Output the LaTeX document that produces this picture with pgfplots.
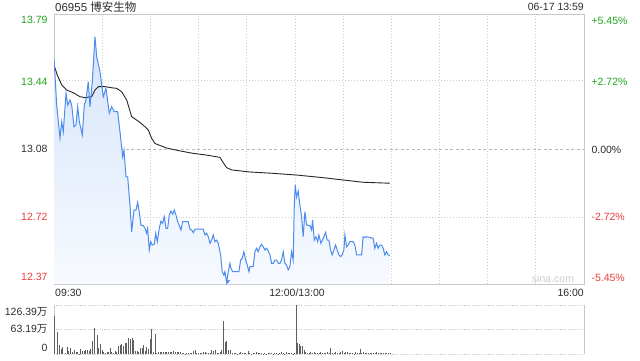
\documentclass[border=0pt]{standalone}
\usepackage{fontspec}
\setmainfont{Liberation Sans}
\newfontfamily\cjk{Noto Sans CJK SC}
\usepackage{pgfplots}
\pgfplotsset{compat=1.18}
\usepackage{pgfplotstable}
\definecolor{upg}{RGB}{30,165,30}
\definecolor{dnr}{RGB}{235,60,60}
\definecolor{lineb}{RGB}{75,140,238}
\definecolor{fillb}{RGB}{214,228,250}
\definecolor{fillw}{RGB}{247,250,255}
\definecolor{framec}{RGB}{200,200,200}
\definecolor{gridc}{RGB}{205,205,205}
\definecolor{volc}{RGB}{95,95,95}
\definecolor{txt}{RGB}{45,45,45}

\pgfplotstableread{
m p
0 13.557
1.68 13.311
3.73 13.138
4.79 13.224
5.79 13.171
7.47 13.373
8.53 13.311
9.96 13.338
11.02 13.311
12.45 13.197
13.69 13.206
14.75 13.302
15.75 13.224
17.61 13.154
18.86 13.311
19.92 13.338
21.35 13.434
22.41 13.302
23.84 13.434
25.52 13.671
26.58 13.565
28.63 13.487
30.68 13.355
32.36 13.399
34.42 13.268
35.91 13.302
37.53 13.276
39.65 13.276
41.08 13.171
42.76 13.040
43.57 13.075
44.81 12.934
45.87 12.934
47.30 12.786
48.36 12.645
49.79 12.759
51.04 12.759
52.09 12.800
52.90 12.759
54.15 12.680
55.58 12.677
56.64 12.663
57.70 12.637
58.32 12.663
59.31 12.549
60.19 12.593
61.18 12.575
62.43 12.579
63.30 12.637
64.29 12.593
65.54 12.663
66.60 12.701
67.65 12.689
68.65 12.724
69.71 12.663
70.77 12.663
71.76 12.733
72.82 12.754
73.88 12.737
74.87 12.759
75.93 12.733
76.99 12.698
77.99 12.677
79.04 12.654
80.10 12.698
83.59 12.698
84.65 12.658
85.71 12.654
86.70 12.640
87.76 12.658
92.92 12.658
93.98 12.628
95.04 12.637
96.04 12.619
97.09 12.584
98.15 12.601
99.15 12.628
100.21 12.593
101.27 12.601
102.26 12.584
103.75 12.523
104.75 12.435
105.81 12.417
106.43 12.435
107.49 12.379
108.49 12.435
109.54 12.479
110.17 12.453
111.22 12.435
115.14 12.435
116.20 12.496
117.20 12.505
118.26 12.540
119.31 12.496
120.31 12.470
121.37 12.435
121.99 12.461
124.04 12.461
125.10 12.540
126.16 12.558
127.15 12.540
128.21 12.566
129.27 12.579
130.26 12.566
131.32 12.549
132.38 12.558
133.37 12.544
134.43 12.523
135.49 12.479
136.49 12.479
137.55 12.496
138.60 12.496
139.60 12.479
140.66 12.479
141.72 12.496
142.71 12.540
143.77 12.479
144.83 12.470
145.82 12.444
146.88 12.461
147.94 12.540
148.94 12.496
149.56 12.768
150.18 12.891
151.05 12.828
152.04 12.859
153.10 12.786
154.16 12.724
155.16 12.619
156.22 12.750
157.28 12.680
159.33 12.677
160.39 12.654
161.01 12.707
162.01 12.601
163.07 12.619
164.12 12.593
164.93 12.628
166.18 12.584
167.61 12.610
169.11 12.642
170.10 12.601
171.16 12.601
172.22 12.549
173.21 12.523
174.27 12.549
175.33 12.575
176.33 12.549
177.38 12.523
178.44 12.514
179.44 12.523
180.50 12.549
181.12 12.628
182.18 12.566
183.17 12.575
184.23 12.593
186.29 12.593
187.34 12.575
188.40 12.523
191.51 12.523
192.51 12.619
193.56 12.614
194.62 12.619
198.73 12.610
199.79 12.558
200.85 12.584
201.84 12.558
202.90 12.575
203.96 12.575
204.96 12.558
206.01 12.523
207.07 12.540
208.07 12.523
209.13 12.519
}\price

\pgfplotstableread{
m p
0 13.522
2.05 13.469
4.79 13.417
7.90 13.390
12.01 13.376
16.18 13.355
19.29 13.350
23.46 13.355
25.52 13.390
27.57 13.408
31.74 13.408
35.91 13.402
39.02 13.399
42.14 13.381
45.25 13.338
48.36 13.250
51.30 13.233
53.53 13.220
57.70 13.189
58.69 13.180
60.81 13.136
62.86 13.109
70.15 13.085
78.42 13.070
86.70 13.057
95.04 13.048
103.32 13.036
105.00 13.013
107.49 12.982
110.60 12.970
121.99 12.959
136.49 12.952
151.05 12.943
165.56 12.931
180.06 12.917
192.51 12.905
209.13 12.900
}\avg

\pgfplotstableread{
m v
0.6 98
2.1 57.5
3.3 23
4.4 12
5.4 19
6.9 3
8.3 17
9.3 8.6
10.4 14.6
11.6 6
12.7 10
13.7 6
14.7 4
15.8 1
16.8 12
17.8 8.6
18.9 8.6
19.9 10
21.0 10
22.0 8.6
23.0 12
24.1 34
25.5 66
26.8 49
27.8 14.6
28.8 26
29.9 10
30.9 6
32.0 3
33.0 6
34.0 6
35.1 14.6
36.1 6
37.1 3
38.2 8.6
39.2 6
40.3 20
41.3 22
42.3 26
43.4 20
44.4 27.5
45.4 29
46.5 42
47.5 38
48.6 42
49.6 37
50.6 8.6
51.7 8.6
52.7 6
53.7 14.6
54.8 14.6
55.8 22
56.9 8.6
57.9 18
58.9 12
60.0 39
60.8 64
62.0 6
63.1 51.6
64.1 3
65.1 6
66.2 6
67.2 4
68.3 4
69.3 6
70.3 6
71.4 4
72.4 6
73.4 6
74.5 7.5
75.5 6
76.6 4
77.6 4
78.6 4
79.7 3
80.7 2
81.7 1
82.8 1.5
83.8 1.5
84.9 1.5
85.9 3
86.9 7.5
88.0 10
89.0 2
90.0 3
91.1 2
92.1 1.5
93.2 4
94.2 5
95.2 2
96.3 3
97.3 3
98.3 10
99.4 7.5
100.4 10
101.5 1.5
102.5 3
103.5 4
104.6 10
105.6 86
106.6 32
107.7 34
108.7 10
110.2 10
111.2 2
112.2 2
113.3 3.4
114.3 1
115.4 2
116.4 6
117.4 2
118.5 2
119.5 2
121.0 8.6
122.0 2
123.0 0.5
124.1 2
125.1 2
126.1 6
127.2 2
128.2 3.4
129.3 2
130.3 1
131.3 2
132.4 1
133.4 2
134.4 2
135.5 3.4
136.5 1
137.6 2
138.6 2
139.6 1
140.7 3.4
141.7 6
142.7 2
143.8 0.5
144.8 6
145.9 2
146.9 3.4
147.9 2
149.0 1
149.6 2
150.8 126.39
151.7 29
152.7 26
153.7 20
154.8 20
155.8 10
156.9 6
157.9 3.4
158.9 2
160.0 6
161.0 2
162.0 6
163.1 2
164.1 3.4
165.2 2
166.2 6
167.2 2
168.3 3.4
169.3 2
170.3 6
171.4 2
172.4 14.6
173.5 2
174.5 2
175.5 4
176.6 2
177.6 2
178.6 4
179.7 8
180.7 2
181.8 6
182.8 6
183.8 2
184.9 2
185.9 2
186.9 0.5
188.0 6
189.0 2
190.1 2
190.7 12
191.7 3.4
192.8 6
193.8 2
194.8 2
195.9 2
196.9 2
197.9 3.4
199.0 2
200.0 3.4
201.0 6
202.1 2
203.1 2
204.2 3.4
205.2 2
206.2 2
207.3 2
208.3 2
209.3 2
}\vol

\begin{document}
\begin{tikzpicture}
\useasboundingbox (0pt,0pt) rectangle (640pt,360pt);
\begin{axis}[
  at={(54pt,76pt)}, anchor=south west,
  width=530pt, height=270pt, scale only axis,
  xmin=0, xmax=330, ymin=12.37, ymax=13.79,
  xtick={30,60,...,300}, ytick={13.44,12.72},
  xticklabel={\relax}, yticklabel={\relax},
  extra y ticks={13.08}, extra y tick labels={\relax},
  extra y tick style={grid=major, grid style={color=gray!55, dash pattern=on 3pt off 2.5pt, line width=0.6pt}},
  major tick length=0pt,
  grid=major,
  grid style={gridc, dash pattern=on 1pt off 2pt, line width=0.7pt},
  axis line style={framec, line width=0.8pt},
  clip mode=individual,
]
\addplot[draw=none, top color=fillb, bottom color=fillw] table[x=m,y=p]{\price}
  -- (axis cs:209.13,12.37) -- (axis cs:0,12.37) -- cycle;
\addplot[black!85, line width=0.9pt] table[x=m,y=p]{\avg};
\addplot[lineb, line width=1pt] table[x=m,y=p]{\price};
\addplot[only marks, mark=triangle*, mark size=2pt, mark options={rotate=180, fill=lineb, draw=lineb}] coordinates {(108.2,12.384)};
\end{axis}

\begin{axis}[
  at={(54pt,6pt)}, anchor=south west,
  width=530pt, height=49pt, scale only axis,
  xmin=0, xmax=330, ymin=0, ymax=126.39,
  xtick=\empty, ytick={63.19}, yticklabel={\relax},
  major tick length=0pt,
  ymajorgrids,
  grid style={gridc, dash pattern=on 1.2pt off 1.2pt, line width=0.8pt},
  separate axis lines,
  x axis line style={gridc, dash pattern=on 1.2pt off 1.2pt, line width=0.8pt},
  y axis line style={framec, line width=0.8pt},
]
\addplot[ycomb, volc, line width=1pt] table[x=m,y=v]{\vol};
\end{axis}

\begin{scope}[font=\fontsize{10.5}{12}\selectfont]
\node[anchor=east, text=upg] at (51pt,340pt) {13.79};
\node[anchor=east, text=upg] at (51pt,278pt) {13.44};
\node[anchor=east, text=txt] at (51pt,211pt) {13.08};
\node[anchor=east, text=dnr] at (51pt,143pt) {12.72};
\node[anchor=east, text=dnr] at (51pt,83pt) {12.37};
\node[anchor=west, text=upg] at (588pt,339pt) {+5.45\%};
\node[anchor=west, text=upg] at (588pt,278pt) {+2.72\%};
\node[anchor=west, text=txt] at (588pt,210pt) {0.00\%};
\node[anchor=west, text=dnr] at (588pt,143pt) {-2.72\%};
\node[anchor=west, text=dnr] at (588pt,82pt) {-5.45\%};
\node[anchor=west, text=txt, inner xsep=0pt] at (55pt,67pt) {09:30};
\node[text=txt] at (297pt,67pt) {12:00/13:00};
\node[anchor=east, text=txt, inner xsep=0pt] at (584pt,67pt) {16:00};
\node[anchor=east, text=txt] at (51pt,48pt) {126.39{\cjk 万}};
\node[anchor=east, text=txt] at (51pt,31pt) {63.19{\cjk 万}};
\node[anchor=east, text=txt] at (51pt,12pt) {0};
\node[anchor=east, text=txt, inner xsep=0pt] at (584pt,353pt) {06-17 13:59};
\node[text=black!20] at (553pt,81pt) {sina.com};
\end{scope}
\node[anchor=west, text=txt, inner xsep=0pt, font=\fontsize{11.5}{13}\selectfont] at (55pt,353pt) {06955 {\cjk 博安生物}};
\end{tikzpicture}
\end{document}
